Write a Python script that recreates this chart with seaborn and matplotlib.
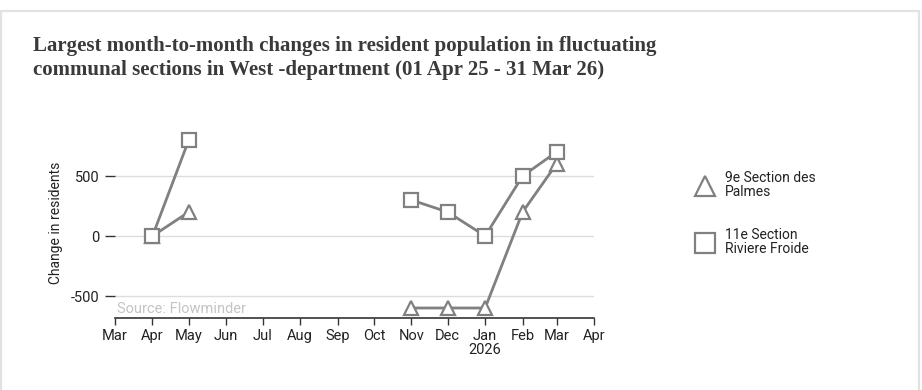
import matplotlib
matplotlib.use("Agg")
import matplotlib.pyplot as plt
from matplotlib.patches import Rectangle
from matplotlib.lines import Line2D
import seaborn as sns
import pandas as pd

sns.set_theme(style="white")
plt.rcParams['font.family'] = ['Roboto', 'DejaVu Sans']

series_names = ["9e Section des\nPalmes", "11e Section\nRiviere Froide"]
series_markers = ["^", "s"]
seg1_months = ["2025-04-01", "2025-05-01"]
seg2_months = ["2025-11-01", "2025-12-01", "2026-01-01", "2026-02-01", "2026-03-01"]
palmes_seg1 = [0, 200]
palmes_seg2 = [-600, -600, -600, 200, 600]
riviere_seg1 = [0, 800]
riviere_seg2 = [300, 200, 0, 500, 700]
tick_months = ["2025-03-01", "2025-04-01", "2025-05-01", "2025-06-01", "2025-07-01",
               "2025-08-01", "2025-09-01", "2025-10-01", "2025-11-01", "2025-12-01",
               "2026-01-01", "2026-02-01", "2026-03-01", "2026-04-01"]
tick_labels = ["Mar", "Apr", "May", "Jun", "Jul", "Aug", "Sep", "Oct", "Nov", "Dec",
               "Jan\n2026", "Feb", "Mar", "Apr"]
y_ticks = [-500, 0, 500]

rows = []
for name, s1, s2 in [(series_names[0], palmes_seg1, palmes_seg2),
                     (series_names[1], riviere_seg1, riviere_seg2)]:
    for d, v in zip(seg1_months, s1):
        rows.append((name, 1, pd.Timestamp(d), v))
    for d, v in zip(seg2_months, s2):
        rows.append((name, 2, pd.Timestamp(d), v))
df = pd.DataFrame(rows, columns=["series", "seg", "date", "value"])

W, H = 922, 390
fig = plt.figure(figsize=(W / 100, H / 100), dpi=100)
fig.patch.set_facecolor("white")
fig.add_artist(Rectangle((1 / W, -0.05), 918 / W, 1.05 - 11 / H, transform=fig.transFigure,
                         fill=False, edgecolor="#e2e2e2", linewidth=1.6))

ax_left, ax_right = 115, 594
ax_top, ax_bottom = 128, 317.6
ax = fig.add_axes([ax_left / W, 1 - ax_bottom / H, (ax_right - ax_left) / W,
                   (ax_bottom - ax_top) / H])
line_color = "#808080"
sns.lineplot(data=df, x="date", y="value", style="series", units="seg",
             estimator=None, markers=series_markers, dashes=False, color=line_color,
             linewidth=2, markersize=9.5, markerfacecolor="white",
             markeredgecolor=line_color, markeredgewidth=1.6, legend=False, ax=ax)

ax.set_xlim(pd.Timestamp(tick_months[0]), pd.Timestamp(tick_months[-1]))
ax.set_ylim(-680, 900)
ax.set_xticks([pd.Timestamp(t) for t in tick_months])
ax.set_xticklabels(tick_labels, fontsize=10.5, color="#222222", linespacing=1.0)
ax.set_yticks(y_ticks)
ax.set_yticklabels([str(v) for v in y_ticks], fontsize=10.5, color="#222222")
ax.grid(axis="y", color="#dddddd", linewidth=1)
ax.set_axisbelow(True)
for s in ["top", "right", "left"]:
    ax.spines[s].set_visible(False)
ax.spines["bottom"].set_color("#333333")
ax.spines["bottom"].set_linewidth(1.2)
ax.tick_params(axis="x", which="both", bottom=True, length=5, width=1, color="#333333", pad=3)
ax.tick_params(axis="y", left=True, length=7, width=1, color="#333333", pad=4)
ax.set_xlabel("")
ax.set_ylabel("Change in residents", fontsize=10, color="#222222", labelpad=6)
ax.text(0.005, 0.01, "Source: Flowminder", transform=ax.transAxes, fontsize=10.5,
        color="#c4c4c4", ha="left", va="bottom")

fig.text(33 / W, 1 - 80 / H,
         "Largest month-to-month changes in resident population in fluctuating\n"
         "communal sections in West -department (01 Apr 25 - 31 Mar 26)",
         fontsize=15, family=["Liberation Serif"], fontweight="bold", color="#3a3a3a",
         ha="left", va="bottom", linespacing=1.25)

legend_y = [186, 243]
for m, name, yy in zip(series_markers, series_names, legend_y):
    fig.add_artist(Line2D([705 / W], [1 - yy / H], transform=fig.transFigure,
                          linestyle="none", marker=m, markersize=14,
                          markerfacecolor="white", markeredgecolor=line_color,
                          markeredgewidth=1.6))
    fig.text(725 / W, 1 - (yy - 1) / H, name, fontsize=10, color="#222222",
             ha="left", va="center", linespacing=0.95)

fig.savefig("out.png", dpi=100, facecolor="white")
